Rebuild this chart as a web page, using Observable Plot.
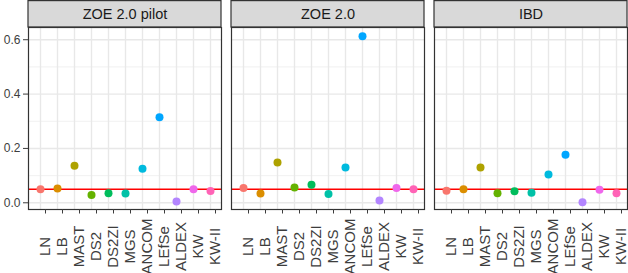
<!DOCTYPE html>
<html>
<head>
<meta charset="utf-8">
<script src="https://cdn.jsdelivr.net/npm/d3@7"></script>
<script src="https://cdn.jsdelivr.net/npm/@observablehq/plot@0.6"></script>
<style>
  body { margin: 0; background: #ffffff; }
  #chart svg { display: block; }
</style>
</head>
<body>
<div id="chart"></div>
<script>
const datasets = ["ZOE 2.0 pilot", "ZOE 2.0", "IBD"];
const methods = ["LN", "LB", "MAST", "DS2", "DS2ZI", "MGS", "ANCOM", "LEfSe", "ALDEX", "KW", "KW-II"];
const methodColors = ["#F8766D", "#DB8E00", "#AEA200", "#64B200", "#00BD5C", "#00C1A7", "#00BADE", "#00A6FF", "#B385FF", "#EF67EB", "#FF63B6"];
const pilotValues = [0.050, 0.053, 0.136, 0.029, 0.035, 0.034, 0.125, 0.315, 0.005, 0.050, 0.043];
const zoeValues   = [0.054, 0.034, 0.148, 0.056, 0.066, 0.032, 0.130, 0.613, 0.008, 0.054, 0.050];
const ibdValues   = [0.044, 0.050, 0.130, 0.035, 0.042, 0.037, 0.104, 0.177, 0.002, 0.048, 0.035];
const yTicks = [0, 0.2, 0.4, 0.6];
const yMinorTicks = [0.1, 0.3, 0.5];
const threshold = 0.05;

const seriesByDataset = [pilotValues, zoeValues, ibdValues];
const rows = [];
datasets.forEach((ds, i) => {
  methods.forEach((m, j) => rows.push({dataset: ds, method: m, value: seriesByDataset[i][j]}));
});

const FONT = "'Liberation Sans', Arial, Helvetica, sans-serif";

const chart = Plot.plot({
  width: 628,
  height: 273,
  marginTop: 27,
  marginBottom: 64,
  marginLeft: 28,
  marginRight: 1,
  style: {fontFamily: FONT, background: "#ffffff", overflow: "visible"},
  fx: {domain: datasets, paddingInner: 0.0493, paddingOuter: 0, label: null, axis: null},
  x: {type: "point", domain: methods, padding: 0.6, label: null, axis: null},
  y: {domain: [-0.0247, 0.645], label: null, axis: null},
  color: {domain: methods, range: methodColors},
  marks: [
    Plot.gridY(yMinorTicks, {stroke: "#ebebeb", strokeOpacity: 1, strokeWidth: 0.7}),
    Plot.gridY(yTicks, {stroke: "#e8e8e8", strokeOpacity: 1, strokeWidth: 1.4}),
    Plot.gridX(methods, {stroke: "#e8e8e8", strokeOpacity: 1, strokeWidth: 1.4}),
    Plot.ruleY([threshold], {stroke: "#ff0000", strokeWidth: 1.5}),
    Plot.dot(rows, {x: "method", y: "value", fx: "dataset", fill: "method", r: 4}),
    Plot.frame({stroke: "#333333", strokeWidth: 1.2}),
    Plot.axisY(yTicks, {
      tickSize: 5, tickPadding: 3, fontSize: 12,
      tickFormat: d3.format(".1f"), color: "#3d3d3d", label: null
    }),
    Plot.axisX({
      tickSize: 4.5, tickRotate: -90, fontSize: 15,
      textAnchor: "middle", lineAnchor: "middle",
      tickPadding: 32.5, dx: 5, color: "#3d3d3d", label: null
    }),
    Plot.axisFx({
      anchor: "top", tickSize: 0, tickPadding: 13.5,
      lineAnchor: "middle", fontSize: 14.5, color: "#1a1a1a", label: null
    })
  ]
});

// Facet strips (grey boxes behind the facet titles), positioned with Plot's fx scale
const fxScale = chart.scale("fx");
const bw = fxScale.bandwidth != null ? fxScale.bandwidth
  : (fxScale.range[1] - fxScale.range[0]) / datasets.length;
const svg = d3.select(chart);
const strips = svg.insert("g", ":first-child").attr("class", "strips");
datasets.forEach(ds => {
  const x0 = fxScale.apply(ds);
  strips.append("rect")
    .attr("x", x0)
    .attr("y", 0.6)
    .attr("width", bw)
    .attr("height", 27 - 0.6)
    .attr("fill", "#d9d9d9")
    .attr("stroke", "#333333")
    .attr("stroke-width", 1.2);
});

document.getElementById("chart").appendChild(chart);
</script>
</body>
</html>
